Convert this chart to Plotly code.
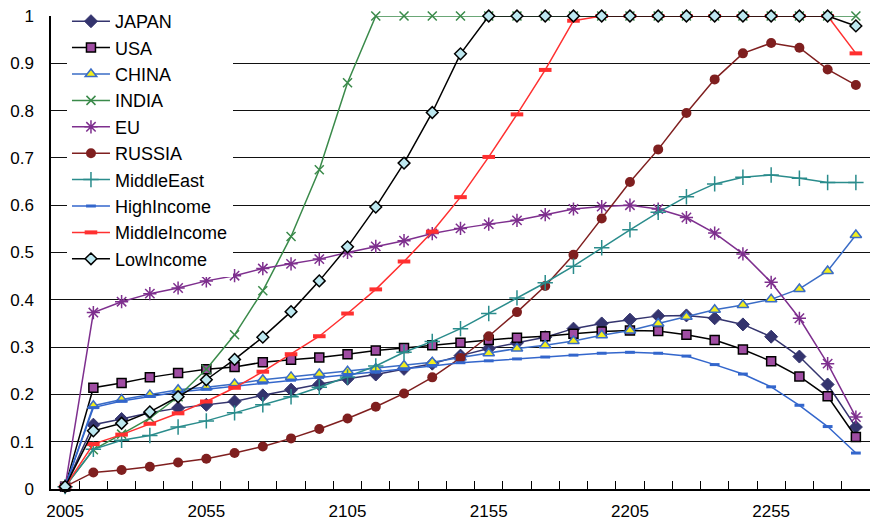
import plotly.graph_objects as go

years = list(range(2005, 2286, 10))

JAPAN = [0.005, 0.136, 0.148, 0.161, 0.171, 0.178, 0.185, 0.198, 0.210, 0.221, 0.233, 0.242, 0.254, 0.265, 0.282,
         0.297, 0.309, 0.321, 0.339, 0.350, 0.358, 0.366, 0.367, 0.361, 0.348, 0.322, 0.280, 0.221, 0.131]
USA = [0.005, 0.214, 0.224, 0.236, 0.245, 0.253, 0.258, 0.268, 0.273, 0.278, 0.285, 0.293, 0.298, 0.304, 0.309,
       0.315, 0.320, 0.323, 0.328, 0.333, 0.335, 0.334, 0.326, 0.315, 0.295, 0.270, 0.238, 0.196, 0.110]
CHINA = [0.005, 0.176, 0.189, 0.199, 0.210, 0.215, 0.222, 0.231, 0.237, 0.243, 0.249, 0.255, 0.261, 0.268, 0.278,
         0.287, 0.297, 0.304, 0.313, 0.325, 0.335, 0.350, 0.364, 0.379, 0.389, 0.401, 0.423, 0.461, 0.537]
INDIA = [0.005, 0.083, 0.116, 0.150, 0.195, 0.253, 0.326, 0.419, 0.534, 0.675, 0.859, 1, 1, 1, 1,
         1, 1, 1, 1, 1, 1, 1, 1, 1, 1, 1, 1, 1, 1]
EU = [0.005, 0.373, 0.396, 0.413, 0.425, 0.440, 0.451, 0.466, 0.476, 0.486, 0.500, 0.513, 0.525, 0.540, 0.551,
      0.560, 0.568, 0.580, 0.592, 0.597, 0.600, 0.592, 0.574, 0.541, 0.497, 0.437, 0.361, 0.265, 0.152]
RUSSIA = [0.005, 0.035, 0.040, 0.047, 0.056, 0.064, 0.076, 0.090, 0.107, 0.127, 0.149, 0.174, 0.202, 0.236, 0.277,
          0.323, 0.374, 0.429, 0.495, 0.572, 0.649, 0.718, 0.795, 0.866, 0.921, 0.943, 0.933, 0.887, 0.854]
MIDDLE_EAST = [0.005, 0.084, 0.103, 0.113, 0.131, 0.144, 0.161, 0.178, 0.195, 0.215, 0.237, 0.260, 0.289, 0.312, 0.339,
               0.371, 0.404, 0.436, 0.471, 0.510, 0.548, 0.585, 0.618, 0.645, 0.659, 0.664, 0.657, 0.648, 0.648]
HIGH_INCOME = [0.005, 0.172, 0.186, 0.196, 0.205, 0.211, 0.217, 0.224, 0.230, 0.236, 0.241, 0.247, 0.253, 0.260, 0.267,
               0.271, 0.275, 0.279, 0.283, 0.287, 0.289, 0.287, 0.281, 0.263, 0.243, 0.216, 0.177, 0.132, 0.076]
MIDDLE_INCOME = [0.005, 0.095, 0.115, 0.138, 0.160, 0.185, 0.214, 0.248, 0.285, 0.323, 0.371, 0.422, 0.481, 0.544, 0.617,
                 0.702, 0.792, 0.886, 0.990, 1, 1, 1, 1, 1, 1, 1, 1, 1, 0.921]
LOW_INCOME = [0.005, 0.123, 0.139, 0.163, 0.195, 0.231, 0.274, 0.321, 0.375, 0.440, 0.512, 0.596, 0.689, 0.796, 0.920,
              1, 1, 1, 1, 1, 1, 1, 1, 1, 1, 1, 1, 1, 0.979]

x_label_years = [2005, 2055, 2105, 2155, 2205, 2255]
x_boundaries = list(range(2010, 2290, 10))
y_ticks = [i / 10 for i in range(11)]

FONT = "Liberation Sans, Arial, sans-serif"

series = [
    ("JAPAN", JAPAN, "#34346E", dict(symbol="diamond", size=10, color="#34346E", line=dict(color="#34346E", width=1))),
    ("USA", USA, "#000000", dict(symbol="square", size=9, color="#A04DA3", line=dict(color="#000000", width=1.5))),
    ("CHINA", CHINA, "#3A6CC6", dict(symbol="triangle-up", size=10, color="#F2EE1E", line=dict(color="#3A6CC6", width=1.5))),
    ("INDIA", INDIA, "#3A8A4A", dict(symbol="x-thin-open", size=9, color="#3A8A4A", line=dict(color="#3A8A4A", width=1.5))),
    ("EU", EU, "#7E2F8E", dict(symbol="asterisk-open", size=11, color="#7E2F8E", line=dict(color="#7E2F8E", width=1.5))),
    ("RUSSIA", RUSSIA, "#7F1F1F", dict(symbol="circle", size=10, color="#7F1F1F", line=dict(color="#7F1F1F", width=0))),
    ("MiddleEast", MIDDLE_EAST, "#2A8C8C", dict(symbol="cross-thin-open", size=11, color="#2A8C8C", line=dict(color="#2A8C8C", width=1.5))),
    ("HighIncome", HIGH_INCOME, "#3366CC", dict(symbol="line-ew-open", size=7, color="#3366CC", line=dict(color="#3366CC", width=3))),
    ("MiddleIncome", MIDDLE_INCOME, "#FF3030", dict(symbol="line-ew-open", size=9, color="#FF3030", line=dict(color="#FF3030", width=4))),
    ("LowIncome", LOW_INCOME, "#000000", dict(symbol="diamond", size=9, color="#BDE8F0", line=dict(color="#000000", width=1.5))),
]

fig = go.Figure()
for name, vals, lc, mk in series:
    fig.add_trace(go.Scatter(
        x=years, y=vals, name=name, mode="lines+markers",
        line=dict(color=lc, width=1.5), marker=mk, cliponaxis=False,
    ))

# plot region: 3..489 px; y axis occupies 16..489 px
fig.update_layout(
    width=870, height=523,
    margin=dict(l=51, r=0, t=3, b=34, autoexpand=False),
    paper_bgcolor="white", plot_bgcolor="white",
    font=dict(family=FONT, size=17, color="#000000"),
    showlegend=True,
    legend=dict(
        x=0.0195, y=1.0, xanchor="left", yanchor="top",
        bgcolor="white", borderwidth=0,
        font=dict(family=FONT, size=18, color="#000000"),
        itemwidth=38, tracegroupgap=0,
    ),
    xaxis=dict(
        range=[2000, 2290], showgrid=False, zeroline=False, automargin=False,
        showline=True, linecolor="#000000", linewidth=1.5,
        tickmode="array", tickvals=x_label_years, ticktext=[str(v) for v in x_label_years],
        ticks="", ticklabelstandoff=6,
        tickfont=dict(family=FONT, size=17),
        minor=dict(tickmode="array", tickvals=x_boundaries, ticks="inside", ticklen=8,
                   tickcolor="#000000", tickwidth=1, showgrid=False),
    ),
    yaxis=dict(
        domain=[0, 473 / 486],
        range=[0, 1], tickmode="array", tickvals=y_ticks, automargin=False,
        showgrid=True, gridcolor="#111111", gridwidth=1,
        zeroline=False, showline=True, linecolor="#000000", linewidth=1.5,
        ticks="", ticklabelstandoff=12,
        tickfont=dict(family=FONT, size=17),
    ),
)

fig.write_html("out.html", config={"displayModeBar": False},
               post_script="document.body.style.margin='0';document.body.style.padding='0';")
